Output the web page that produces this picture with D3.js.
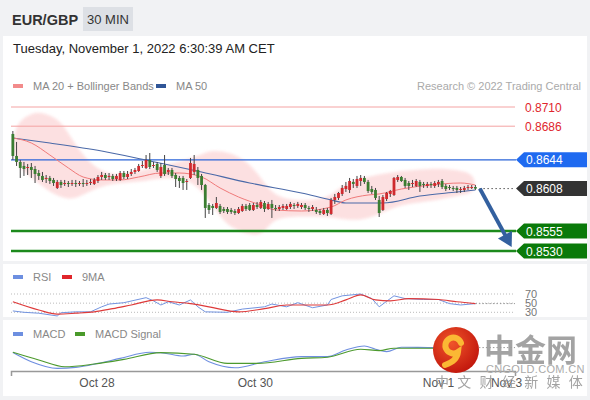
<!DOCTYPE html>
<html><head><meta charset="utf-8">
<script src="https://cdn.jsdelivr.net/npm/d3@7"></script>
<style>
html,body{margin:0;padding:0;background:#f1f2f4;}
svg{display:block;font-family:"Liberation Sans",Arial,Helvetica,sans-serif;}
</style></head><body>
<svg id="c" width="590" height="400"></svg>
<script>
const symbol = "EUR/GBP";
const interval = "30 MIN";
const timestamp = "Tuesday, November 1, 2022 6:30:39 AM CET";

const opens = [
.86763,.86488,.86413,.86363,.86338,.86350,.86325,.86275,.86238,.86200,
.86213,.86188,.86088,.86163,.86138,.86150,.86138,.86150,.86138,.86150,
.86138,.86150,.86138,.86175,.86225,.86250,.86225,.86238,.86200,.86188,
.86275,.86225,.86263,.86288,.86300,.86363,.86338,.86438,.86363,.86388,
.86238,.86375,.86288,.86313,.86250,.86213,.86213,.86163,.86213,.86288,
.86313,.86238,.86125,.85875,.85863,.85838,.85863,.85825,.85825,.85813,
.85800,.85775,.85800,.85863,.85875,.85813,.85875,.85838,.85900,.85825,
.85888,.85838,.85825,.85838,.85825,.85850,.85875,.85863,.85850,.85875,
.85838,.85825,.85813,.85800,.85763,.85813,.85763,.85938,.85963,.86013,
.86075,.86063,.86163,.86113,.86175,.86213,.86163,.86075,.86063,.85938,
.85813,.85950,.86013,.86000,.86188,.86225,.86188,.86150,.86138,.86113,
.86163,.86138,.86113,.86138,.86113,.86138,.86175,.86113,.86100,.86088,
.86088,.86063,.86063,.86088,.86088,.86100];
const highs = [
.86800,.86663,.86438,.86413,.86388,.86400,.86363,.86313,.86288,.86250,
.86238,.86213,.86188,.86188,.86188,.86175,.86188,.86188,.86175,.86200,
.86188,.86200,.86213,.86250,.86288,.86275,.86275,.86263,.86263,.86300,
.86300,.86300,.86325,.86338,.86388,.86425,.86500,.86525,.86413,.86413,
.86400,.86500,.86338,.86338,.86275,.86238,.86238,.86200,.86463,.86500,
.86350,.86263,.86138,.85900,.85888,.85975,.85888,.85850,.85850,.85838,
.85825,.85850,.85888,.85888,.85900,.85900,.85913,.85938,.85925,.85913,
.85938,.85875,.85875,.85888,.85888,.85913,.85900,.85913,.85900,.85900,
.85863,.85875,.85850,.85825,.85838,.85838,.85963,.86013,.86038,.86125,
.86163,.86213,.86200,.86238,.86250,.86238,.86188,.86113,.86088,.85988,
.86000,.86038,.86063,.86225,.86250,.86238,.86213,.86175,.86188,.86200,
.86188,.86163,.86163,.86163,.86175,.86188,.86200,.86138,.86125,.86113,
.86113,.86100,.86113,.86125,.86125,.86125];
const lows = [
.86438,.86363,.86213,.86238,.86250,.86213,.86150,.86188,.86163,.86150,
.86138,.86113,.86075,.86088,.86113,.86100,.86113,.86100,.86113,.86100,
.86113,.86125,.86125,.86150,.86188,.86188,.86188,.86175,.86175,.86175,
.86200,.86200,.86238,.86263,.86288,.86338,.86325,.86325,.86338,.86288,
.86213,.86238,.86250,.86213,.86100,.86088,.86063,.86063,.86200,.86250,
.86125,.86063,.85713,.85763,.85750,.85825,.85763,.85775,.85763,.85763,
.85750,.85763,.85788,.85800,.85800,.85800,.85825,.85825,.85788,.85813,
.85713,.85800,.85800,.85813,.85813,.85825,.85825,.85838,.85825,.85813,
.85788,.85800,.85763,.85750,.85750,.85738,.85750,.85888,.85938,.85988,
.86038,.86025,.86088,.86088,.86113,.86138,.86025,.86013,.85938,.85725,
.85800,.85925,.85975,.85988,.86163,.86163,.86088,.86063,.86100,.86100,
.86038,.86088,.86088,.86088,.86088,.86100,.86075,.86050,.86063,.86050,
.86025,.86025,.86038,.86063,.86075,.86063];
const closes = [
.86488,.86413,.86338,.86325,.86350,.86313,.86263,.86238,.86188,.86213,
.86175,.86150,.86163,.86125,.86150,.86138,.86150,.86138,.86150,.86138,
.86150,.86163,.86188,.86225,.86250,.86213,.86238,.86200,.86238,.86275,
.86225,.86263,.86288,.86313,.86363,.86375,.86438,.86350,.86375,.86313,
.86350,.86263,.86313,.86238,.86200,.86175,.86150,.86175,.86400,.86388,
.86213,.86125,.85838,.85813,.85838,.85900,.85788,.85800,.85788,.85788,
.85775,.85825,.85863,.85825,.85813,.85875,.85850,.85913,.85825,.85888,
.85838,.85825,.85850,.85863,.85863,.85888,.85863,.85888,.85875,.85838,
.85825,.85850,.85788,.85775,.85813,.85775,.85938,.85975,.86025,.86088,
.86113,.86175,.86138,.86200,.86213,.86163,.86050,.86038,.85963,.85775,
.85975,.86025,.86050,.86213,.86225,.86175,.86113,.86113,.86150,.86175,
.86113,.86125,.86138,.86125,.86150,.86163,.86100,.86075,.86088,.86075,
.86063,.86075,.86088,.86100,.86100,.86080];

const ma50Index = [0,10,24,37,51,64,78,86,90,100,110,120,125];
const ma50Values = [.86713,.86650,.86550,.86425,.86288,.86150,.86025,.85938,.85900,.85900,.85988,.86038,.86063];
const ma20Index = [0,5,10,15,19,24,29,34,40,45,51,56,61,67,71,78,86,90,96,99,105,113,121,125];
const ma20Values = [.86713,.86650,.86500,.86338,.86225,.86188,.86188,.86225,.86275,.86275,.86225,.86088,.85975,.85875,.85813,.85800,.85850,.85938,.86000,.86013,.86075,.86125,.86150,.86125];
const bbUpperIndex = [0,5,8,13,16,20,24,29,37,44,51,53,59,64,68,71,78,86,88,95,102,113,121,125];
const bbUpperValues = [.86875,.87025,.87038,.86938,.86688,.86438,.86288,.86238,.86338,.86400,.86500,.86563,.86538,.86400,.86150,.85975,.85913,.85975,.86100,.86225,.86288,.86338,.86313,.86250];
const bbLowerIndex = [0,5,10,15,18,23,28,34,40,45,49,53,56,59,64,67,69,71,78,86,90,96,102,108,115,121,125];
const bbLowerValues = [.86400,.86225,.86025,.85938,.85975,.86100,.86150,.86163,.86213,.86213,.86150,.85938,.85725,.85588,.85500,.85500,.85600,.85713,.85738,.85725,.85688,.85688,.85838,.85900,.85938,.86000,.86025];

const levelValues = [0.8710, 0.8686, 0.8644, 0.8608, 0.8555, 0.8530];
const levelKinds = ["resistance","resistance","pivot","last","support","support"];
const arrowFrom = [126.2, 0.8608];
const arrowTo = [134.8, 0.8535];

const rsiIndex = [0,3,7,12,13,17,21,24,26,30,36,38,40,42,45,48,50,52,58,62,68,70,74,77,81,85,86,89,94,97,99,103,106,111,115,118,121,125];
const rsiValues = [33,30,28,22,29,31,31,42,48,51,62,55,46,53,46,57,42,31,30,37,42,48,42,51,40,46,58,66,70,60,42,66,60,58,58,49,46,49];
const rsiMaIndex = [0,7,12,17,22,27,32,39,43,48,53,61,68,74,80,85,90,94,98,102,107,115,120,125];
const rsiMaValues = [53,35,26,28,31,38,46,57,53,49,42,31,38,46,46,46,57,68,57,55,60,58,53,49];
const rsiLevels = [70,50,30];

const macdIndex = [0,5,12,17,23,29,37,41,46,49,53,60,68,78,85,90,95,98,101,105,114,125];
const macdValues = [.00027,-.00019,-.00052,-.00047,-.00027,-.00002,.00029,.00024,.00010,.00019,-.00019,-.00049,-.00019,.00007,.00007,.00040,.00060,.00044,.00032,.00054,.00052,.00052];
const signalIndex = [0,7,14,22,30,40,49,58,66,78,85,94,99,103,114,125];
const signalValues = [.00029,-.00010,-.00044,-.00030,-.00007,.00027,.00019,-.00027,-.00027,-.00002,.00004,.00044,.00037,.00049,.00049,.00050];

const tickIndex = [22.6, 65.4, 114.9, 133.3];
const tickLabels = ["Oct 28","Oct 30","Nov 1","Nov 3"];

const svg = d3.select("#c");
const W = 590, H = 400;
svg.append("rect").attr("width",W).attr("height",H).attr("fill","#f1f2f4");
svg.append("rect").attr("x",3).attr("y",36).attr("width",584).attr("height",225).attr("fill","#fff");
svg.append("rect").attr("x",3).attr("y",264).attr("width",584).attr("height",53).attr("fill","#fff");
svg.append("rect").attr("x",3).attr("y",320).attr("width",584).attr("height",76).attr("fill","#fff");

// header
svg.append("text").attr("x",12).attr("y",25).attr("font-size",14.5).attr("font-weight","bold").attr("fill","#333").text(symbol);
svg.append("rect").attr("x",83).attr("y",7).attr("width",50).attr("height",24).attr("fill","#dde0e5");
svg.append("text").attr("x",108).attr("y",24).attr("text-anchor","middle").attr("font-size",13).attr("fill","#333").text(interval);
svg.append("text").attr("x",13).attr("y",53).attr("font-size",13).attr("fill","#222").text(timestamp);

// legend
function legend(x, y, color, label){
  svg.append("rect").attr("x",x).attr("y",y-2).attr("width",10).attr("height",4).attr("fill",color);
  svg.append("text").attr("x",x+20).attr("y",y+4).attr("font-size",11).attr("fill","#888").text(label);
}
legend(13,86,"#f28b8b","MA 20 + Bollinger Bands");
legend(156,86,"#2f5597","MA 50");
svg.append("text").attr("x",581).attr("y",90).attr("text-anchor","end").attr("font-size",11).attr("fill","#aaa").text("Research \u00a9 2022 Trading Central");

const x = d3.scaleLinear().domain([-0.5, 135.7]).range([11, 515]);
const y = d3.scaleLinear().domain([0.8530, 0.8710]).range([251, 107]);

const defs = svg.append("defs");
defs.append("filter").attr("id","soft").append("feGaussianBlur").attr("stdDeviation",1.8);

// bollinger band
const bandPts = bbUpperIndex.map((d,i)=>[x(d), y(bbUpperValues[i])])
  .concat(bbLowerIndex.map((d,i)=>[x(d), y(bbLowerValues[i])]).reverse());
svg.append("path").attr("d", d3.line().curve(d3.curveBasisClosed)(bandPts))
  .attr("fill","#fcd6d7").attr("opacity",0.75).attr("filter","url(#soft)");

// levels
const gL = svg.append("g");
levelValues.forEach((v,i)=>{
  const k = levelKinds[i], yy = y(v);
  if(k==="resistance"){
    gL.append("line").attr("x1",11).attr("x2",515).attr("y1",yy).attr("y2",yy).attr("stroke","#f4a3a3").attr("stroke-width",1);
    gL.append("text").attr("x",525).attr("y",yy+4.5).attr("font-size",12).attr("fill","#e0262d").text(v.toFixed(4));
  } else {
    let fill;
    if(k==="pivot"){
      fill="#1f6af0";
      gL.append("line").attr("x1",11).attr("x2",516).attr("y1",yy).attr("y2",yy).attr("stroke","#2b64d8").attr("stroke-width",1.3);
    } else if(k==="support"){
      fill="#0a7a0a";
      gL.append("line").attr("x1",11).attr("x2",516).attr("y1",yy).attr("y2",yy).attr("stroke","#1c8a1c").attr("stroke-width",2.5);
    } else {
      fill="#333";
      gL.append("line").attr("x1",x(closes.length-1)+4).attr("x2",515).attr("y1",yy).attr("y2",yy).attr("stroke","#555").attr("stroke-width",1).attr("stroke-dasharray","1.5,2.5");
    }
    const pts = [[516,yy],[524,yy-7.5],[587,yy-7.5],[587,yy+7.5],[524,yy+7.5]];
    gL.append("polygon").attr("points",pts.map(p=>p.join(",")).join(" ")).attr("fill",fill);
    gL.append("text").attr("x",526).attr("y",yy+4.5).attr("font-size",12).attr("fill","#fff").text(v.toFixed(4));
  }
});

// MAs
const lineIdx = (idx, vals, sc, curve) => d3.line().curve(curve)(idx.map((d,i)=>[x(d), sc(vals[i])]));
svg.append("path").attr("d", lineIdx(ma50Index, ma50Values, y, d3.curveMonotoneX)).attr("fill","none").attr("stroke","#4a69a8").attr("stroke-width",1.1);
svg.append("path").attr("d", lineIdx(ma20Index, ma20Values, y, d3.curveMonotoneX)).attr("fill","none").attr("stroke","#f07a7a").attr("stroke-width",1);

// candles
const gc = svg.append("g");
closes.forEach((c,i)=>{
  const o = opens[i], up = c >= o;
  const cx = x(i);
  gc.append("line").attr("x1",cx).attr("x2",cx).attr("y1",y(highs[i])).attr("y2",y(lows[i])).attr("stroke","#444").attr("stroke-width",1);
  const top = y(Math.max(o,c)), bot = y(Math.min(o,c));
  gc.append("rect").attr("x",cx-1.4).attr("width",2.8).attr("y",top).attr("height",Math.max(1,bot-top))
    .attr("fill", up ? "#cf2a2e" : "#3b7d31");
});

// arrow
{
  const x1 = x(arrowFrom[0]), y1 = y(arrowFrom[1]), x2 = x(arrowTo[0]), y2 = y(arrowTo[1]);
  const dx = x2-x1, dy = y2-y1, L = Math.hypot(dx,dy), ux = dx/L, uy = dy/L;
  const hl = 14, hw = 8;
  const bx = x2-ux*hl, by = y2-uy*hl;
  svg.append("line").attr("x1",x1).attr("y1",y1).attr("x2",bx+ux*1).attr("y2",by+uy*1).attr("stroke","#33609f").attr("stroke-width",4);
  svg.append("polygon").attr("points",[[x2,y2],[bx-uy*hw,by+ux*hw],[bx+uy*hw,by-ux*hw]].map(p=>p.join(",")).join(" ")).attr("fill","#33609f");
}

// RSI panel
legend(13,277,"#6d8fe0","RSI");
legend(62,277,"#e0262b","9MA");
const yr = d3.scaleLinear().domain([30,70]).range([312.3,294]);
rsiLevels.forEach(v=>{
  svg.append("line").attr("x1",11).attr("x2",515).attr("y1",yr(v)).attr("y2",yr(v)).attr("stroke","#bbb").attr("stroke-width",1).attr("stroke-dasharray","1,2");
  svg.append("text").attr("x",525).attr("y",yr(v)+4).attr("font-size",11).attr("fill","#777").text(v);
});
svg.append("line").attr("x1",x(rsiIndex[rsiIndex.length-1])).attr("x2",515).attr("y1",yr(rsiValues[rsiValues.length-1])).attr("y2",yr(rsiValues[rsiValues.length-1])).attr("stroke","#999").attr("stroke-dasharray","1.5,2");
svg.append("path").attr("d", lineIdx(rsiIndex, rsiValues, yr, d3.curveLinear)).attr("fill","none").attr("stroke","#7394e0").attr("stroke-width",1);
svg.append("path").attr("d", lineIdx(rsiMaIndex, rsiMaValues, yr, d3.curveMonotoneX)).attr("fill","none").attr("stroke","#de3a3a").attr("stroke-width",1.2);

// MACD panel
legend(13,334,"#6d8fe0","MACD");
legend(75,334,"#4a9a2a","MACD Signal");
const ym = d3.scaleLinear().domain([-0.0006, 0.0008]).range([370, 342]);
svg.append("line").attr("x1",x(macdIndex[macdIndex.length-1])).attr("x2",515).attr("y1",ym(macdValues[macdValues.length-1])).attr("y2",ym(macdValues[macdValues.length-1])).attr("stroke","#999").attr("stroke-dasharray","1.5,2");
svg.append("path").attr("d", lineIdx(macdIndex, macdValues, ym, d3.curveMonotoneX)).attr("fill","none").attr("stroke","#6f8fe0").attr("stroke-width",1.1);
svg.append("path").attr("d", lineIdx(signalIndex, signalValues, ym, d3.curveMonotoneX)).attr("fill","none").attr("stroke","#4d9a2e").attr("stroke-width",1.1);

// x axis
const ax = svg.append("g").attr("transform","translate(0,371)")
  .call(d3.axisBottom(x).tickValues(tickIndex).tickFormat((d,i)=>tickLabels[i]).tickSizeInner(0).tickSizeOuter(5).tickPadding(7.5));
ax.select(".domain").attr("stroke","#999").attr("stroke-width",1.5);
ax.selectAll("text").attr("font-size",12).attr("fill","#555").attr("font-family","'Liberation Sans',Arial,sans-serif");

// watermark
{
  const g = svg.append("g");
  const rg = defs.append("radialGradient").attr("id","wm").attr("cx","40%").attr("cy","35%").attr("r","70%");
  rg.append("stop").attr("offset","0%").attr("stop-color","#f0542a");
  rg.append("stop").attr("offset","100%").attr("stop-color","#c0150c");
  g.append("circle").attr("cx",456).attr("cy",350).attr("r",23).attr("fill","url(#wm)");
  g.append("path").attr("d","M461,343 a8,8 0 1,0 -3,9 q-1,9 -13,13").attr("fill","none").attr("stroke","#fbb834").attr("stroke-width",6).attr("stroke-linecap","round");
  g.append("text").attr("x",484).attr("y",361).attr("font-size",31).attr("font-weight","bold").attr("fill","#9a9a9a").attr("opacity",0.9).attr("font-family","'Noto Sans CJK SC',sans-serif").text("中金网");
  g.append("text").attr("x",486).attr("y",373).attr("font-size",11).attr("fill","#aaa").attr("letter-spacing",0.3).text("CNGOLD.COM.CN");
  g.append("text").attr("x",435).attr("y",387).attr("font-size",14).attr("fill","#999").attr("opacity",0.9).attr("letter-spacing",8.3).attr("font-family","'Noto Sans CJK SC',sans-serif").text("中文财经新媒体");
}
</script>
</body></html>
